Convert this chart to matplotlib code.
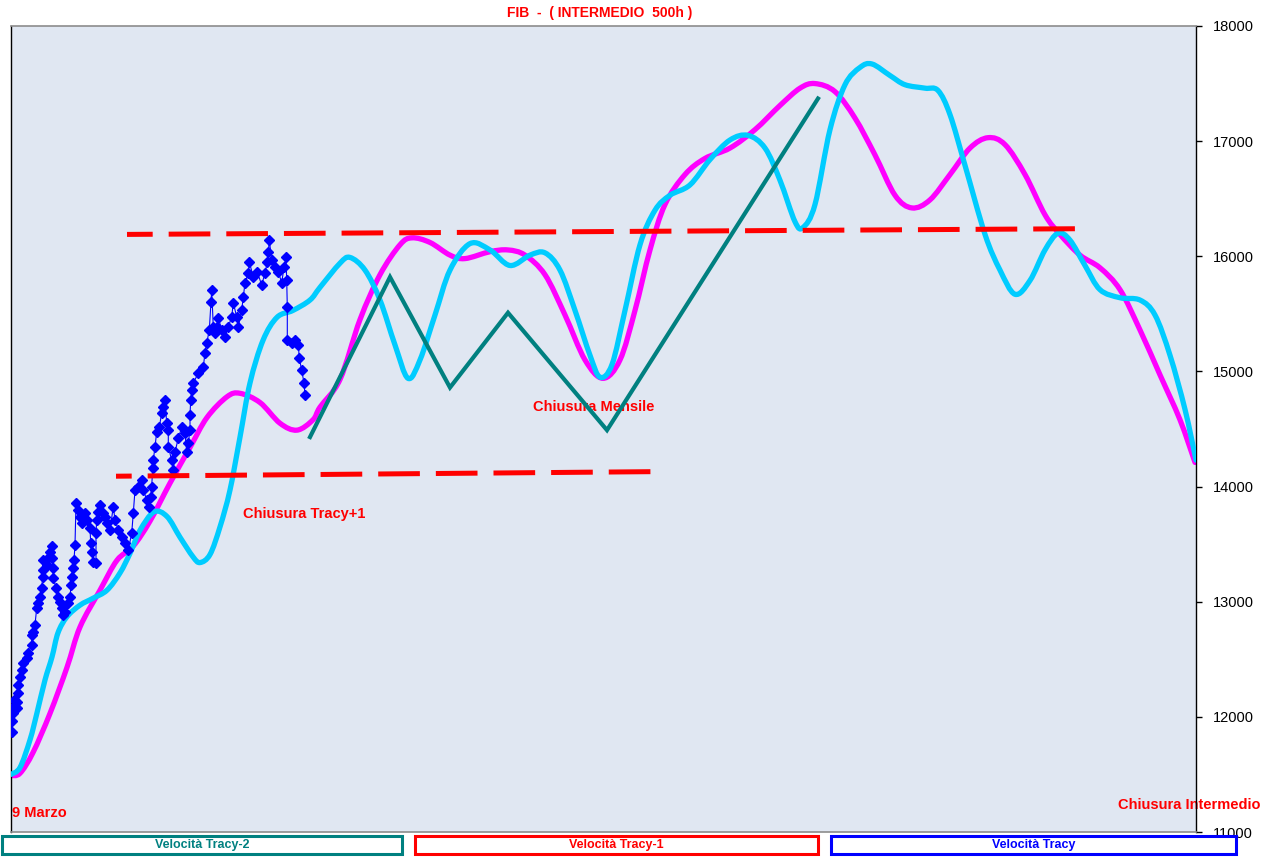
import matplotlib
matplotlib.use("Agg")
import matplotlib.pyplot as plt
import numpy as np
from matplotlib.path import Path
from matplotlib.patches import PathPatch, Rectangle

plt.rcParams["font.family"] = ["Liberation Sans", "DejaVu Sans"]
plt.rcParams["lines.scale_dashes"] = False

W, H = 1270, 858

# ---- data (hour index, FIB points) ----
tracy_x = [0.7, 0.7, 1.7, 2.3, 3, 5.7, 5.7, 7.3, 7.3, 9, 10.7, 12.3, 15.7, 17.3, 20.7, 20.7,
           22.3, 24, 25.7, 27.3, 29, 30.7, 31.7, 32.3, 32.3, 35.7, 37.3, 39, 40.7, 40.7, 42.3,
           42.3, 45, 47.3, 49, 50.7, 52.3, 54, 57.3, 59, 60, 60.7, 61.7, 63, 64, 65, 67.3, 69,
           70.7, 74, 76.3, 79, 79.7, 80.7, 82.3, 85, 85, 85.7, 87.3, 89, 91.7, 94, 96.3, 99,
           102.3, 104, 107.3, 110.7, 114, 117.3, 120.7, 122.3, 124, 127.3, 130.7, 132.3, 135.7,
           138.3, 139.7, 140.7, 141.7, 142.3, 144, 145.7, 148.3, 150.7, 152.3, 154, 155.7, 157.3,
           157.3, 160.7, 162.3, 164, 167.3, 170.7, 174, 175.7, 177.3, 179, 179, 179.7, 180.7,
           182.3, 187.3, 192.3, 194, 195.7, 198.3, 200, 200.7, 202.3, 204, 205.7, 207.3, 210.7,
           214, 217.3, 220.7, 222.3, 225.7, 227.3, 230.7, 232.3, 234, 237.3, 238.3, 242.3, 246.3,
           250.7, 254, 256.3, 257.3, 258.3, 260.7, 264, 267.3, 270.7, 273, 275, 275.7, 276.3,
           276.3, 280.7, 284, 287.3, 288.3, 290.7, 293, 294]
tracy_y = [11870, 11960, 12035, 12085, 12145, 12130, 12075, 12205, 12275, 12345, 12405, 12470,
           12510, 12555, 12625, 12710, 12735, 12800, 12945, 12990, 13040, 13120, 13215, 13275,
           13360, 13320, 13380, 13430, 13485, 13380, 13295, 13205, 13120, 13040, 13000, 12945,
           12885, 12910, 12990, 13040, 13145, 13215, 13295, 13360, 13495, 13855, 13795, 13735,
           13685, 13770, 13710, 13640, 13510, 13430, 13345, 13335, 13595, 13710, 13780, 13840,
           13770, 13735, 13685, 13625, 13825, 13710, 13625, 13560, 13510, 13450, 13595, 13770,
           13970, 14000, 14055, 13970, 13885, 13825, 13910, 14000, 14160, 14230, 14345, 14475,
           14515, 14640, 14690, 14750, 14550, 14490, 14345, 14230, 14145, 14300, 14420, 14515,
           14465, 14300, 14380, 14490, 14620, 14750, 14840, 14900, 14985, 15040, 15160, 15245,
           15360, 15605, 15705, 15385, 15335, 15385, 15465, 15360, 15300, 15385, 15475, 15595,
           15475, 15385, 15535, 15645, 15770, 15855, 15950, 15820, 15865, 15750, 15855, 15950,
           16035, 16140, 15970, 15905, 15865, 15770, 15905, 15995, 15795, 15560, 15275, 15245,
           15275, 15230, 15115, 15010, 14900, 14795]

tracy1_x = [0, 9, 22, 39, 56, 69, 89, 106, 122, 139, 159, 179, 196, 216, 229, 249, 269, 286,
            302, 309, 329, 349, 369, 389, 401, 419, 439, 454, 479, 497, 514, 534, 554, 574,
            592, 609, 624, 639, 654, 674, 694, 719, 744, 769, 789, 804, 824, 844, 864, 884,
            901, 919, 939, 959, 977, 994, 1014, 1034, 1049, 1069, 1089, 1109, 1129, 1149,
            1169, 1184]
tracy1_y = [11490, 11510, 11690, 12030, 12430, 12780, 13100, 13360, 13480, 13700, 14030, 14340,
            14600, 14780, 14810, 14730, 14550, 14490, 14580, 14690, 14930, 15450, 15840, 16100,
            16160, 16120, 16010, 15980, 16040, 16055, 16010, 15840, 15490, 15100, 14940, 15100,
            15530, 16055, 16450, 16710, 16850, 16940, 17100, 17310, 17460, 17500, 17430, 17200,
            16880, 16530, 16420, 16490, 16710, 16940, 17030, 16970, 16710, 16360, 16190, 16010,
            15900, 15710, 15360, 14970, 14580, 14210]

tracy2s_x = [0, 9, 19, 26, 34, 41, 47, 56, 69, 82, 96, 109, 119, 129, 143, 156, 169, 182, 189,
             199, 209, 219, 229, 239, 252, 266, 282, 299, 309, 329, 339, 354, 369, 384, 397,
             409, 424, 439, 459, 479, 499, 519, 534, 549, 564, 579, 589, 601, 614, 629, 644,
             659, 679, 699, 719, 737, 754, 769, 784, 792, 804, 819, 834, 849, 861, 879, 894,
             914, 927, 939, 954, 974, 989, 1004, 1019, 1034, 1047, 1059, 1074, 1089, 1109,
             1129, 1144, 1159, 1174, 1185]
tracy2s_y = [11500, 11560, 11800, 12035, 12320, 12520, 12730, 12870, 12970, 13030, 13100,
             13250, 13420, 13620, 13780, 13740, 13560, 13390, 13340, 13410, 13650, 13970,
             14430, 14900, 15270, 15470, 15530, 15620, 15730, 15940, 15990, 15880, 15620,
             15230, 14940, 15100, 15490, 15880, 16110, 16055, 15920, 16010, 16030, 15880,
             15530, 15140, 14950, 15060, 15530, 16100, 16400, 16530, 16620, 16840, 17010,
             17050, 16940, 16660, 16300, 16250, 16450, 17100, 17490, 17640, 17670, 17570,
             17490, 17460, 17440, 17230, 16790, 16190, 15880, 15670, 15790, 16055, 16200,
             16140, 15920, 15710, 15640, 15620, 15490, 15140, 14670, 14230]

tracy2_x = [299, 379, 439, 497, 596, 807]
tracy2_y = [14430, 15820, 14860, 15510, 14490, 17370]

resist_x = [116, 1079]
resist_y = [16190, 16240]
support_x = [105, 648]
support_y = [14090, 14130]

yticks = [11000, 12000, 13000, 14000, 15000, 16000, 17000, 18000]

MAGENTA = "#ff00ff"
CYAN = "#00ccff"
TEAL = "#008080"
RED = "#ff0000"
BLUE = "#0000ff"


def smooth_path(xs, ys):
    # smoothed line through the points (like the spreadsheet's smoothed series)
    pts = np.column_stack([xs, ys]).astype(float)
    verts = [pts[0]]
    codes = [Path.MOVETO]
    n = len(pts)
    for i in range(n - 1):
        p0 = pts[i - 1] if i > 0 else pts[i]
        p1, p2 = pts[i], pts[i + 1]
        p3 = pts[i + 2] if i + 2 < n else pts[i + 1]
        verts += [p1 + (p2 - p0) / 6, p2 - (p3 - p1) / 6, p2]
        codes += [Path.CURVE4] * 3
    return Path(verts, codes)


def ax_pos(px, py):
    # pixel position on the picture -> axes fraction
    return (px - 11) / (1196 - 11), (832 - py) / (832 - 26)


fig = plt.figure(figsize=(W / 100, H / 100), dpi=100)
ax = fig.add_axes([11 / W, 1 - 832 / H, (1196 - 11) / W, (832 - 26) / H])
ax.set_facecolor("#e0e7f2")
ax.set_xlim(0, 1185)
ax.set_ylim(11000, 18000)

for xs, ys, col, z in [(tracy1_x, tracy1_y, MAGENTA, 2), (tracy2s_x, tracy2s_y, CYAN, 3)]:
    ax.add_patch(PathPatch(smooth_path(xs, ys), fill=False, edgecolor=col, lw=3.8,
                           capstyle="round", joinstyle="round", zorder=z))

ax.plot(tracy2_x, tracy2_y, color=TEAL, lw=3.0, solid_joinstyle="miter", zorder=4)
ax.plot(tracy_x, tracy_y, color=BLUE, lw=0.8, marker="D", ms=4.7, mec=BLUE, mfc=BLUE, zorder=5)

ax.plot(resist_x, resist_y, color=RED, lw=3.6, linestyle=(11.5, (30, 11.5)),
        dash_capstyle="butt", zorder=6)
ax.plot(support_x, support_y, color=RED, lw=3.6, linestyle=(18.7, (30, 11.5)),
        dash_capstyle="butt", zorder=6)

# value axis on the right
ax.yaxis.tick_right()
ax.set_yticks(yticks)
ax.set_yticklabels([str(v) for v in yticks], fontsize=10.5)
ax.tick_params(axis="y", direction="out", length=4, width=1, pad=8, colors="black")
ax.set_xticks([])
for side in ("left", "right"):
    ax.spines[side].set_color("black")
    ax.spines[side].set_linewidth(1)
for side in ("top", "bottom"):
    ax.spines[side].set_color("#8c8c8c")
    ax.spines[side].set_linewidth(1.2)

# labels inside the plot (below the lines)
txt = dict(color=RED, fontweight="bold", fontsize=10.5, zorder=1.5, va="center", ha="left")
for px, py, s in [(533, 407, "Chiusura Mensile"), (243, 514, "Chiusura Tracy+1"),
                  (12, 813, "9 Marzo")]:
    ax.text(*ax_pos(px, py), s, transform=ax.transAxes, **txt)
ax.text(*ax_pos(1118, 805), "Chiusura Intermedio", transform=ax.transAxes,
        clip_on=False, **txt)

fig.text(600 / W, 1 - 13 / H, "FIB  -  ( INTERMEDIO  500h )", color=RED,
         fontweight="bold", fontsize=10, ha="center", va="center")

# legend strip
legend = [(2, 402, "Velocità Tracy-2", TEAL), (415, 818, "Velocità Tracy-1", RED),
          (831, 1236, "Velocità Tracy", BLUE)]
for x0, x1, label, col in legend:
    fig.patches.append(Rectangle((x0 / W, 1 - 854 / H), (x1 - x0) / W, 18 / H,
                                 transform=fig.transFigure, facecolor="white",
                                 edgecolor=col, lw=2.2))
    fig.text((x0 + x1) / 2 / W, 1 - 845 / H, label, color=col, fontweight="bold",
             fontsize=9, ha="center", va="center")

fig.savefig("out.png", dpi=100)
